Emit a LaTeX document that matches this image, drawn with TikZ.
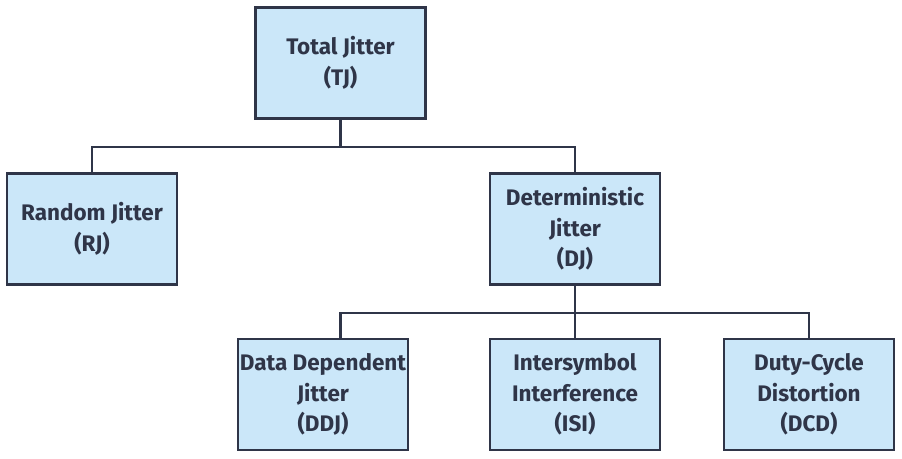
\documentclass[tikz,border=0pt]{standalone}
\usepackage{fontspec}
\setmainfont{Fira Sans}
\usepackage{xcolor}
\definecolor{boxfill}{HTML}{CBE7F9}
\definecolor{boxline}{HTML}{2F3548}
\tikzset{
  jbox/.style={draw=boxline, fill=boxfill, line width=1.3pt, minimum width=3.4cm,
    minimum height=2.22cm, align=center, text=boxline, inner sep=1pt,
    font=\fontsize{12.8}{17.5}\selectfont\bfseries},
  link/.style={draw=boxline, line width=1.3pt}
}
\begin{document}
\begin{tikzpicture}[x=0.02cm, y=-0.02cm]
	\useasboundingbox (0,0) rectangle (902,459);
	% Boxes
	\node[jbox] (TJ) at (340.5, 63) {Total Jitter\\(TJ)};
	\node[jbox] (RJ) at (92, 229) {Random Jitter\\(RJ)};
	\node[jbox] (DJ) at (575, 229) {Deterministic\\Jitter\\(DJ)};
	\node[jbox] (DDJ) at (323, 394.5) {Data Dependent\\Jitter\\(DDJ)};
	\node[jbox] (ISI) at (575, 394.5) {Intersymbol\\Interference\\(ISI)};
	\node[jbox] (DCD) at (809, 394.5) {Duty-Cycle\\Distortion\\(DCD)};

	% Connectors
	\coordinate (top) at (340.5, 147);
	\coordinate (mid) at (575, 313);
	\draw[link] (TJ.south) -- (top);
	\draw[link] (RJ.north) |- (top) -| (DJ.north);
	\draw[link] (DJ.south) -- (mid);
	\draw[link] (DDJ.north -| top) |- (mid) -| (DCD.north);
	\draw[link] (ISI.north) -- (mid);
\end{tikzpicture}
\end{document}
